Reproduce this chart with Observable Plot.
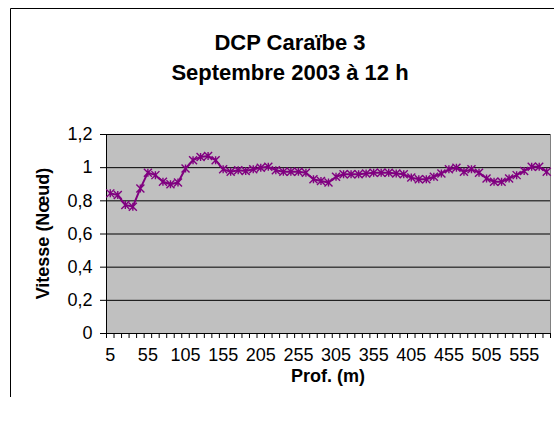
<!DOCTYPE html>
<html><head><meta charset="utf-8">
<script src="https://cdn.jsdelivr.net/npm/d3@7"></script>
<script src="https://cdn.jsdelivr.net/npm/@observablehq/plot@0.6"></script>
<style>body{margin:0;background:#fff} svg{display:block}</style>
</head><body><div id="chart"></div>
<script>
const depths = [5,15,25,35,45,55,65,75,85,95,105,115,125,135,145,155,165,175,185,195,205,215,225,235,245,255,265,275,285,295,305,315,325,335,345,355,365,375,385,395,405,415,425,435,445,455,465,475,485,495,505,515,525,535,545,555,565,575,585];
const speeds = [0.845,0.835,0.775,0.765,0.875,0.97,0.955,0.915,0.9,0.91,0.995,1.045,1.065,1.07,1.045,0.99,0.975,0.985,0.98,0.99,1.0,1.005,0.985,0.975,0.975,0.975,0.97,0.93,0.92,0.91,0.945,0.96,0.96,0.96,0.965,0.97,0.97,0.97,0.965,0.96,0.94,0.93,0.93,0.945,0.965,0.99,1.0,0.975,0.99,0.97,0.935,0.915,0.915,0.935,0.955,0.98,1.005,1.005,0.975];
const xTickLabels = [5,55,105,155,205,255,305,355,405,455,505,555];
const yTicks = [0,0.2,0.4,0.6,0.8,1,1.2];
const titleLines = ["DCP Caraïbe 3","Septembre 2003 à 12 h"];
const xTitle = "Prof. (m)";
const yTitle = "Vitesse (Nœud)";

const data = depths.map((d,i)=>({depth:d, speed:speeds[i]}));
const step = depths[1]-depths[0];
const boundaries = depths.map(d=>d-step/2).concat([depths[depths.length-1]+step/2]);
const xDomain = [boundaries[0], boundaries[boundaries.length-1]];

const star = {draw(ctx, size){
  const r = Math.sqrt(size/Math.PI);
  ctx.moveTo(0,-r); ctx.lineTo(0,r);
  ctx.moveTo(-r,-r); ctx.lineTo(r,r);
  ctx.moveTo(-r,r); ctx.lineTo(r,-r);
}};

const W=554, H=425, ML=106, MR=4, MT=134, MB=92;
const FONT = "'Liberation Sans', Arial, sans-serif";
const chart = Plot.plot({
  width:W, height:H, marginLeft:ML, marginRight:MR, marginTop:MT, marginBottom:MB,
  style:{fontFamily:FONT, fontSize:"18px", color:"#000", background:"transparent", overflow:"visible"},
  x:{domain:xDomain, label:null},
  y:{domain:[0,1.2], label:null},
  marks:[
    Plot.frame({fill:"#c0c0c0", stroke:"#808080"}),
    Plot.gridY(yTicks, {stroke:"#000", strokeOpacity:1, strokeWidth:1}),
    Plot.axisY(yTicks, {tickSize:6, tickPadding:8, tickFormat:d=>String(d).replace(".",","), fontSize:18, stroke:"#000", label:null}),
    Plot.axisX(boundaries, {tickSize:5, tickFormat:()=>"", stroke:"#000", label:null}),
    Plot.axisX(xTickLabels, {tickSize:0, tickPadding:15, fontSize:18, label:null}),
    Plot.ruleX([xDomain[0]], {stroke:"#000"}),
    Plot.ruleY([0], {stroke:"#000"}),
    Plot.line(data, {x:"depth", y:"speed", stroke:"#800080", strokeWidth:2}),
    Plot.dot(data, {x:"depth", y:"speed", symbol:star, r:4, stroke:"#800080", strokeWidth:1.4})
  ]
});

const svg = d3.select(chart);
// chart-area border: top and left edges visible in the picture
svg.insert("path", ":first-child").attr("d","M10.5,397V8.5H560")
  .attr("fill","none").attr("stroke","#000").attr("stroke-width",1);
const tl = svg.append("text").attr("text-anchor","middle").attr("font-weight","bold").attr("font-size",22)
  .attr("font-family",FONT).attr("fill","#000");
titleLines.forEach((t,i)=>tl.append("tspan").attr("x",290).attr("y",50+i*30).text(t));
svg.append("text").attr("text-anchor","middle").attr("font-weight","bold").attr("font-size",18)
  .attr("font-family",FONT).attr("x",ML+(W-ML-MR)/2).attr("y",382).text(xTitle);
svg.append("text").attr("text-anchor","middle").attr("font-weight","bold").attr("font-size",18)
  .attr("font-family",FONT)
  .attr("transform",`translate(49,${MT+(H-MT-MB)/2}) rotate(-90)`).text(yTitle);
document.getElementById("chart").appendChild(chart);
</script>
</body></html>
